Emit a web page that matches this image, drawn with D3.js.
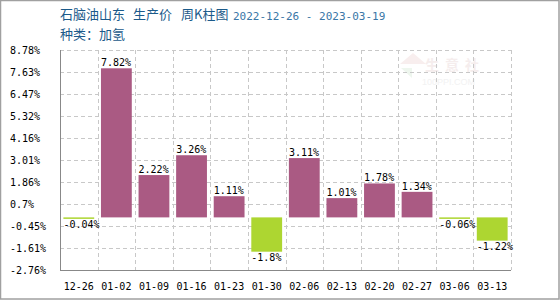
<!DOCTYPE html>
<html><head><meta charset="utf-8">
<script src="https://cdn.jsdelivr.net/npm/d3@7"></script>
<style>body{margin:0;background:#fff}svg{display:block}</style>
</head><body>
<script>
const categories = ["12-26","01-02","01-09","01-16","01-23","01-30","02-06","02-13","02-20","02-27","03-06","03-13"];
const values = [-0.04, 7.82, 2.22, 3.26, 1.11, -1.8, 3.11, 1.01, 1.78, 1.34, -0.06, -1.22];
const valueLabels = ["-0.04%","7.82%","2.22%","3.26%","1.11%","-1.8%","3.11%","1.01%","1.78%","1.34%","-0.06%","-1.22%"];
const yTicks = [-2.76, -1.606, -0.452, 0.702, 1.856, 3.01, 4.164, 5.318, 6.472, 7.626, 8.78];
const yTickLabels = ["-2.76%","-1.61%","-0.45%","0.7%","1.86%","3.01%","4.16%","5.32%","6.47%","7.63%","8.78%"];
const titleParts = ["石脑油山东", "生产价", "周K柱图"];
const dateRange = "2022-12-26 - 2023-03-19";
const subtitle = "种类：加氢";

const W = 560, H = 300;
const L = 60, R = 511, T = 50, B = 270;
const mono = "'DejaVu Sans Mono', 'Liberation Mono', monospace";
const cjk = "'Noto Sans CJK SC', sans-serif";

const svg = d3.select("body").append("svg").attr("width", W).attr("height", H);

// outer border
svg.append("rect").attr("x",0.5).attr("y",0.5).attr("width",W-1.5).attr("height",H-1.5)
  .attr("fill","none").attr("stroke","#a0a0a0").attr("stroke-width",1.5);

const x = d3.scaleBand().domain(categories).range([L, R]).padding(0);
const y = d3.scaleLinear().domain([yTicks[0], yTicks[yTicks.length-1]]).range([B, T]);

// watermark
const wm = svg.append("g");
wm.append("text").attr("x",425).attr("y",70).attr("font-family",cjk).attr("font-size",14)
  .attr("font-weight","bold").attr("fill","#f5eded").attr("letter-spacing",6).text("生意社");
wm.append("text").attr("x",422).attr("y",85).attr("font-family","Arial, sans-serif").attr("font-size",9)
  .attr("fill","#f2f2f2").text("100PPI.COM");
wm.append("path").attr("d","M400,64 L413,53 L426,64 Z").attr("fill","#f8eeee");
wm.append("path").attr("d","M401,68 L412,78 L412,68 Z").attr("fill","#eef6ee");

// grid
const grid = svg.append("g").attr("stroke","#c8c8c8").attr("stroke-dasharray","4,3").attr("stroke-width",1);
yTicks.forEach(t => {
  if (t === yTicks[0]) return;
  const yy = Math.round(y(t)) + 0.5;
  grid.append("line").attr("x1",L).attr("x2",R).attr("y1",yy).attr("y2",yy);
});
categories.forEach(c => {
  const xx = Math.round(x(c) + x.bandwidth()) + 0.5;
  grid.append("line").attr("x1",xx).attr("x2",xx).attr("y1",T).attr("y2",B);
});

// bars
const bw = x.bandwidth();
svg.append("g").selectAll("rect").data(values).join("rect")
  .attr("x",(d,i)=> x(categories[i]) + bw*0.09)
  .attr("width", bw*0.82)
  .attr("y", d => d >= 0 ? y(d) : y(0))
  .attr("height", d => Math.max(Math.abs(y(d) - y(0)), 1.5))
  .attr("fill", d => d >= 0 ? "#aa5a83" : "#add631");

// value labels
svg.append("g").selectAll("text").data(values).join("text")
  .attr("x",(d,i)=> x(categories[i]) + bw*0.09)
  .attr("y", d => d >= 0 ? y(d) - 2 : Math.max(y(d), y(0)+1.5) + 9)
  .attr("font-family", mono).attr("font-size", 10).attr("fill","#000")
  .text((d,i)=> valueLabels[i]);

// axes lines
svg.append("line").attr("x1",L+0.5).attr("x2",L+0.5).attr("y1",T).attr("y2",B+1)
  .attr("stroke","#888").attr("stroke-width",1);
svg.append("line").attr("x1",L).attr("x2",R).attr("y1",B+0.5).attr("y2",B+0.5)
  .attr("stroke","#888").attr("stroke-width",1.2);

// y tick labels
svg.append("g").selectAll("text").data(yTicks).join("text")
  .attr("x", 10).attr("y", d => y(d) + 3.5)
  .attr("font-family", mono).attr("font-size", 10).attr("fill","#000")
  .text((d,i)=> yTickLabels[i]);

// x tick labels
svg.append("g").selectAll("text").data(categories).join("text")
  .attr("x", d => x(d) + bw/2).attr("y", 289.5).attr("text-anchor","middle")
  .attr("font-family", mono).attr("font-size", 10).attr("fill","#000")
  .text(d => d);

// titles
const tx = [60, 133, 181];
titleParts.forEach((t,i)=>{
  svg.append("text").attr("x",tx[i]).attr("y",19).attr("font-family",cjk).attr("font-size",13)
    .attr("fill","#1b5a8a").text(t);
});
svg.append("text").attr("x",233).attr("y",19.5).attr("font-family",mono).attr("font-size",11)
  .attr("fill","#3a76a6").text(dateRange);
svg.append("text").attr("x",60).attr("y",39).attr("font-family",cjk).attr("font-size",13)
  .attr("fill","#1b5a8a").text(subtitle);
</script>
</body></html>
